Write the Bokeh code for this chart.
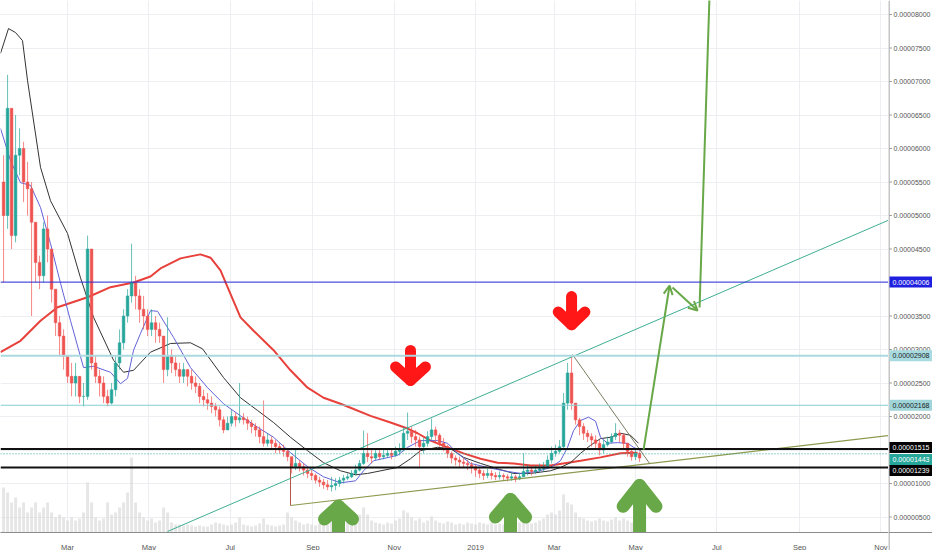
import pandas as pd
from bokeh.plotting import figure
from bokeh.layouts import row
from bokeh.models import (ColumnDataSource, Range1d, FixedTicker, Grid,
                          Span, Arrow, OpenHead)
from bokeh.embed import file_html
from bokeh.resources import INLINE

UNIT = 1e-5          # prices below are written in units of 0.00001
BASE = pd.Timestamp("2018-01-01")

# ---------------- candles (3-day bars) ----------------
start_date = "2018-01-12"
first_open = 5.5
close = [5.0, 6.6, 4.7, 5.9, 6.0, 5.5, 5.4, 4.9, 4.3, 4.1,
         4.8, 4.5, 3.9, 3.4, 3.2, 2.9, 2.6, 2.5, 2.6, 2.3,
         2.3, 4.5, 2.8, 2.6, 2.5, 2.3, 2.2, 2.4, 2.8, 3.1,
         3.5, 3.8, 4.0, 3.8, 3.6, 3.5, 3.3, 3.4, 3.3, 3.2,
         2.7, 2.9, 2.8, 2.7, 2.6, 2.7, 2.6, 2.5, 2.45, 2.3,
         2.25, 2.2, 2.15, 2.1, 1.95, 1.8, 1.9, 2.0, 1.95, 1.98,
         1.95, 1.9, 1.85, 1.8, 1.7, 1.6, 1.65, 1.6, 1.55, 1.5,
         1.48, 1.4, 1.25, 1.3, 1.25, 1.2, 1.15, 1.12, 1.05, 1.02,
         0.98, 0.95, 0.97, 1.0, 1.05, 1.08, 1.1, 1.15, 1.2, 1.3,
         1.45, 1.4, 1.38, 1.45, 1.4, 1.42, 1.45, 1.42, 1.48, 1.5,
         1.75, 1.78, 1.7, 1.65, 1.55, 1.6, 1.7, 1.8, 1.72, 1.6,
         1.55, 1.45, 1.38, 1.35, 1.32, 1.3, 1.28, 1.25, 1.2, 1.15,
         1.12, 1.15, 1.12, 1.1, 1.12, 1.1, 1.08, 1.1, 1.07, 1.1,
         1.18, 1.2, 1.18, 1.2, 1.22, 1.25, 1.35, 1.45, 1.48, 1.55,
         2.2, 2.65, 2.2, 1.95, 1.85, 1.75, 1.7, 1.65, 1.6, 1.5,
         1.58, 1.62, 1.7, 1.75, 1.72, 1.6, 1.48, 1.4, 1.45, 1.38]
high = [5.9, 7.1, 6.6, 6.5, 6.3, 6.1, 5.8, 5.5, 4.9, 4.4,
        4.9, 5.0, 4.5, 3.9, 3.5, 3.3, 2.9, 2.8, 2.8, 2.6,
        2.5, 4.7, 4.5, 2.9, 2.7, 2.6, 2.4, 2.5, 2.9, 3.3,
        3.6, 3.9, 4.58, 4.1, 3.9, 3.8, 3.6, 3.6, 3.5, 3.4,
        3.2, 3.48, 3.0, 2.9, 2.8, 2.8, 2.7, 2.7, 2.6, 2.5,
        2.4, 2.35, 2.3, 2.2, 2.15, 2.0, 2.0, 2.1, 2.06, 2.5,
        2.05, 2.0, 1.95, 1.9, 1.85, 2.24, 1.75, 1.7, 1.65, 1.6,
        1.58, 1.5, 1.4, 1.52, 1.35, 1.3, 1.25, 1.2, 1.15, 1.1,
        1.07, 1.05, 1.1, 1.08, 1.1, 1.13, 1.15, 1.2, 1.28, 1.35,
        1.79, 1.75, 1.5, 1.52, 1.5, 1.5, 1.5, 1.5, 1.55, 1.6,
        1.85, 2.06, 1.85, 1.8, 1.7, 1.68, 1.78, 1.97, 1.85, 1.75,
        1.68, 1.58, 1.48, 1.42, 1.4, 1.38, 1.35, 1.32, 1.28, 1.25,
        1.2, 1.22, 1.2, 1.17, 1.18, 1.15, 1.14, 1.16, 1.13, 1.16,
        1.45, 1.28, 1.25, 1.27, 1.3, 1.32, 1.42, 1.55, 1.58, 1.65,
        2.35, 2.8, 2.9, 2.2, 1.98, 1.9, 1.8, 1.75, 1.72, 1.65,
        1.65, 1.7, 1.75, 1.9, 1.8, 1.75, 1.6, 1.5, 1.5, 1.48]
low = [4.0, 4.8, 4.5, 4.6, 5.6, 5.2, 5.0, 3.5, 4.0, 3.9,
       4.0, 4.3, 3.7, 3.2, 2.9, 2.7, 2.5, 2.3, 2.3, 2.2,
       2.15, 2.25, 2.7, 2.5, 2.3, 2.2, 2.15, 2.18, 2.3, 2.7,
       3.0, 3.4, 3.7, 3.6, 3.4, 3.3, 3.2, 3.2, 3.1, 3.1,
       2.5, 2.6, 2.65, 2.6, 2.5, 2.5, 2.45, 2.4, 2.35, 2.2,
       2.15, 2.1, 2.05, 2.0, 1.85, 1.75, 1.8, 1.85, 1.85, 1.9,
       1.88, 1.8, 1.75, 1.7, 1.6, 1.55, 1.55, 1.5, 1.45, 1.45,
       1.4, 1.33, 1.15, 1.2, 1.18, 1.12, 1.08, 1.05, 1.0, 0.95,
       0.92, 0.9, 0.88, 0.9, 0.95, 1.0, 1.05, 1.08, 1.12, 1.18,
       1.28, 1.32, 1.3, 1.35, 1.35, 1.36, 1.38, 1.36, 1.4, 1.42,
       1.48, 1.65, 1.6, 1.55, 1.25, 1.45, 1.55, 1.65, 1.62, 1.55,
       1.48, 1.38, 1.3, 1.27, 1.25, 1.24, 1.2, 1.15, 1.1, 1.08,
       1.05, 1.08, 1.06, 1.05, 1.06, 1.04, 1.03, 1.04, 1.02, 1.05,
       1.1, 1.12, 1.12, 1.14, 1.16, 1.18, 1.22, 1.3, 1.4, 1.45,
       1.5, 2.1, 2.1, 1.88, 1.72, 1.65, 1.62, 1.55, 1.5, 1.42,
       1.45, 1.55, 1.6, 1.65, 1.62, 1.5, 1.4, 1.34, 1.35, 1.32]
volume = [45, 40, 30, 35, 25, 30, 20, 25, 30, 20,
          25, 30, 20, 15, 18, 15, 12, 15, 12, 14,
          20, 50, 30, 15, 12, 14, 30, 18, 20, 25,
          30, 40, 75, 30, 20, 15, 12, 14, 10, 12,
          25, 20, 10, 8, 8, 7, 8, 7, 6, 7,
          6, 6, 8, 10, 9, 8, 7, 8, 10, 15,
          8, 7, 6, 7, 9, 14, 8, 7, 6, 7,
          8, 20, 15, 12, 10, 8, 9, 8, 7, 9,
          10, 8, 12, 10, 9, 8, 10, 12, 11, 18,
          25, 18, 12, 10, 9, 8, 10, 9, 12, 14,
          22, 20, 15, 12, 14, 10, 12, 16, 12, 10,
          9, 11, 10, 8, 9, 8, 10, 9, 8, 10,
          9, 8, 10, 8, 9, 8, 7, 9, 8, 10,
          14, 10, 9, 10, 12, 14, 18, 20, 18, 22,
          38, 30, 28, 20, 15, 14, 12, 11, 12, 14,
          12, 11, 13, 15, 12, 14, 12, 10, 11, 10]

# ---------------- moving averages (day number since 2018-01-01, price) ----------------
black_ma_day = [8.7, 14.7, 20, 25.2, 29, 38.7, 46.2, 59, 68.7, 78.5, 93.5, 101, 108.5, 121.2,
                136.2, 151.2, 160.2, 176, 188.7, 201.5, 213.5, 226.2, 239, 251, 263.7, 275, 284,
                306.5, 316.2, 323.7, 336.5, 346.2, 356, 368.7, 381.5, 393.5, 406.2, 421.2, 428.7,
                436.2, 443.7, 451.2, 458.7, 466.2, 473.7, 481.2, 487.2]
black_ma_val = [7.42, 7.79, 7.73, 7.61, 7.01, 5.72, 5.22, 4.73, 4.07, 3.48, 2.84, 2.66, 2.69, 2.96,
                3.09, 3.10, 3.01, 2.58, 2.28, 2.09, 1.91, 1.69, 1.49, 1.31, 1.19, 1.13, 1.15,
                1.24, 1.37, 1.49, 1.54, 1.52, 1.39, 1.30, 1.22, 1.15, 1.15, 1.19, 1.24,
                1.31, 1.45, 1.57, 1.67, 1.69, 1.75, 1.72, 1.60]
blue_ma_day = [8.7, 16.2, 23.7, 31.2, 38.7, 46.2, 53.7, 61.2, 71, 78.5, 91.2, 98.7, 104, 108.5,
               113.7, 121.2, 126.5, 138.5, 151.2, 164, 176, 188.7, 201.5, 213.5, 226.2, 239, 251,
               263.7, 275, 281, 288.5, 306.5, 314, 323.7, 336.5, 344, 351.5, 361.2, 374, 386,
               398.7, 411.5, 421.2, 428.7, 434, 438.5, 443.7, 449.7, 455, 458.7, 464, 471.5, 479,
               483.5, 488.7]
blue_ma_val = [6.30, 5.82, 5.49, 5.45, 5.12, 4.58, 3.99, 3.43, 2.73, 2.75, 2.66, 2.49, 2.57, 2.99,
               3.24, 3.58, 3.57, 3.18, 2.73, 2.43, 2.19, 2.01, 1.84, 1.69, 1.46, 1.25, 1.10,
               1.01, 1.04, 1.19, 1.34, 1.42, 1.54, 1.64, 1.64, 1.60, 1.45, 1.30, 1.24, 1.19,
               1.15, 1.18, 1.24, 1.34, 1.54, 1.79, 1.94, 1.99, 1.93, 1.69, 1.60, 1.61, 1.60,
               1.54, 1.49]
red_ma_day = [8.7, 23.7, 38.7, 51.5, 74, 91.2, 108.5, 121.2, 128.7, 143.7, 158.7, 166.2, 173.7,
              179, 188.7, 198.5, 213.5, 226.2, 239, 251, 263.7, 271.2, 286.2, 301.2, 314, 321.5,
              331.2, 344, 356, 368.7, 381.5, 393.5, 406.2, 421.2, 443.7, 458.7, 473.7, 486.5]
red_ma_val = [2.96, 3.13, 3.43, 3.63, 3.78, 3.93, 4.00, 4.09, 4.21, 4.36, 4.42, 4.37, 4.18,
              3.93, 3.48, 3.28, 2.99, 2.69, 2.43, 2.28, 2.19, 2.13, 2.01, 1.91, 1.82, 1.75,
              1.64, 1.54, 1.45, 1.37, 1.31, 1.30, 1.27, 1.27, 1.34, 1.39, 1.45, 1.46]

# ---------------- axis ticks ----------------
tick_dates = ["2018-03-01", "2018-05-01", "2018-07-01", "2018-09-01", "2018-11-01", "2019-01-01",
              "2019-03-01", "2019-05-01", "2019-07-01", "2019-09-01", "2019-11-01"]
tick_labels = ["Mar", "May", "Jul", "Sep", "Nov", "2019", "Mar", "May", "Jul", "Sep", "Nov"]
price_ticks = [0.5, 1.0, 1.5, 2.0, 2.5, 3.0, 3.5, 4.0, 4.5, 5.0, 5.5, 6.0, 6.5, 7.0, 7.5, 8.0]

# ---------------- horizontal levels ----------------
levels = [4.006, 2.908, 2.168, 1.515, 1.443, 1.239]
level_text = ["0.00004006", "0.00002908", "0.00002168", "0.00001515", "0.00001443", "0.00001239"]
# where the scale shows each level's tag (the close tags are pushed apart, as on the scale)
level_tag_at = [4.006, 2.908, 2.168, 1.537, 1.358, 1.194]

# ---------------- drawings (day, price) ----------------
trend_ray_day = [134.0, 674.7]
trend_ray_val = [0.284, 4.93]
support_day = [226.2, 674.7]
support_val = [0.672, 1.716]
marker_day = [226.2, 226.2]
marker_val = [1.30, 0.672]
wedge_day = [437.7, 495.5]
wedge_val = [2.925, 1.299]
path_arrows = [((491.0, 1.507), (510.5, 3.955)), ((512.7, 3.925), (531.5, 3.582))]
path_rise_day = [533.0, 540.8]
path_rise_val = [3.627, 8.5]
red_arrows = [(316.2, 2.985, 2.54, 11.2, 0.2), (437.0, 3.79, 3.37, 10.0, 0.19)]
green_arrows = [(262.2, 0.66, 10.5, 0.19), (391.2, 0.76, 11.3, 0.26), (488.0, 0.97, 12.3, 0.31)]

# ---------------- build ----------------
days = lambda ds: [(pd.Timestamp(d) - BASE).days for d in ds]
dates = pd.date_range(start_date, periods=len(close), freq="3D")
xday = list((dates - BASE).days)
opens = [first_open] + close[:-1]
UP, DOWN = "#26a69a", "#ef5350"
colors = [UP if c >= o else DOWN for o, c in zip(opens, close)]
hi = [max(h, o, c) for h, o, c in zip(high, opens, close)]
lo = [min(l, o, c) for l, o, c in zip(low, opens, close)]
src = ColumnDataSource(dict(
    x=xday,
    top=[max(o, c) * UNIT for o, c in zip(opens, close)],
    bottom=[min(o, c) * UNIT for o, c in zip(opens, close)],
    hi=[v * UNIT for v in hi], lo=[v * UNIT for v in lo],
    vol=volume, color=colors))

AXIS_GREY = "#8c8c8c"
GRID = "#eceef2"
Y_TOP = 8.209   # price at the top edge of the pane
Y_BOT = 0.2687  # price at the time axis

p = figure(frame_width=888, frame_height=532,
           x_range=Range1d(8.7, 674.7), y_range=Range1d(Y_BOT * UNIT, Y_TOP * UNIT),
           output_backend="svg", toolbar_location=None, y_axis_location=None,
           min_border_left=0, min_border_top=0, min_border_right=0, min_border_bottom=18)
p.outline_line_color = None
p.background_fill_color = "white"
p.border_fill_color = "white"
p.extra_y_ranges = {"vol": Range1d(0, 532)}

tick_days = days(tick_dates)
p.xaxis.ticker = FixedTicker(ticks=tick_days)
p.xaxis.major_label_overrides = {d: t for d, t in zip(tick_days, tick_labels)}
p.xaxis.major_label_text_font = "Liberation Sans"
p.xaxis.major_label_text_font_size = "7.5px"
p.xaxis.major_label_text_color = "#555555"
p.xaxis.axis_line_color = AXIS_GREY
p.xaxis.major_tick_line_color = None
p.xaxis.minor_tick_line_color = None
p.xaxis.major_label_standoff = 4
p.xgrid.grid_line_color = GRID
p.add_layout(Grid(dimension=1, ticker=FixedTicker(ticks=[t * UNIT for t in price_ticks]),
                  grid_line_color=GRID))

# volume
p.vbar(x="x", top="vol", bottom=0, width=2.2, source=src, y_range_name="vol",
       fill_color="#d9d9d9", line_color=None, fill_alpha=0.65)

# levels
level_style = [("#2b2bd9", 1, "solid"), ("#aadadf", 2, "solid"), ("#86cfd3", 1, "solid"),
               ("#111111", 2, "solid"), ("#26a69a", 1, "1 2"), ("#111111", 2, "solid")]
for lv, (c, w, d) in zip(levels, level_style):
    p.add_layout(Span(location=lv * UNIT, dimension="width", line_color=c, line_width=w,
                      line_dash=d))

# moving averages
p.line(red_ma_day, [v * UNIT for v in red_ma_val], line_color="#e8403a", line_width=2)
p.line(black_ma_day, [v * UNIT for v in black_ma_val], line_color="#333333", line_width=1)
p.line(blue_ma_day, [v * UNIT for v in blue_ma_val], line_color="#6262d8", line_width=1)

# candles
p.segment(x0="x", x1="x", y0="lo", y1="hi", color="color", source=src, line_width=1, line_alpha=0.7)
p.vbar(x="x", top="top", bottom="bottom", width=2.0, fill_color="color", line_color="color",
       line_width=0.5, source=src)

# drawings
p.line(trend_ray_day, [v * UNIT for v in trend_ray_val], line_color="#3fae93", line_width=1)
p.line(support_day, [v * UNIT for v in support_val], line_color="#8c9a4e", line_width=1.2)
p.line(marker_day, [v * UNIT for v in marker_val], line_color="#b5564a", line_width=1)
p.line(wedge_day, [v * UNIT for v in wedge_val], line_color="#7d7d62", line_width=1)

GREEN = "#68a848"
for (x0, y0), (x1, y1) in path_arrows:
    p.add_layout(Arrow(end=OpenHead(size=9, line_color=GREEN, line_width=2),
                       x_start=x0, y_start=y0 * UNIT, x_end=x1, y_end=y1 * UNIT,
                       line_color=GREEN, line_width=2))
p.line(path_rise_day, [v * UNIT for v in path_rise_val], line_color=GREEN, line_width=2)

for (cx, top, tip, half, wing) in red_arrows:
    p.multi_line([[cx, cx], [cx - half, cx, cx + half]],
                 [[top * UNIT, tip * UNIT], [(tip + wing) * UNIT, tip * UNIT, (tip + wing) * UNIT]],
                 line_color="#ff1616", line_width=11, line_cap="round", line_join="round")
for (cx, tip, half, wing) in green_arrows:
    p.multi_line([[cx, cx], [cx - half, cx, cx + half]],
                 [[tip * UNIT, 0.0], [(tip - wing) * UNIT, tip * UNIT, (tip - wing) * UNIT]],
                 line_color=GREEN, line_width=13, line_cap="round", line_join="round")

# ---------------- price scale pane (right) ----------------
q = figure(frame_width=44, frame_height=550, x_range=Range1d(0, 44),
           y_range=Range1d(0, Y_TOP * UNIT), output_backend="svg", toolbar_location=None,
           x_axis_location=None, y_axis_location=None,
           min_border_left=0, min_border_top=0, min_border_right=0, min_border_bottom=0)
q.outline_line_color = None
q.background_fill_color = "white"
q.border_fill_color = "white"
q.xgrid.visible = False
q.ygrid.visible = False

q.segment(x0=[0.5], x1=[0.5], y0=[0], y1=[Y_TOP * UNIT], line_color=AXIS_GREY, line_width=1)
q.segment(x0=[0], x1=[44], y0=[Y_BOT * UNIT], y1=[Y_BOT * UNIT], line_color=AXIS_GREY, line_width=1)
tick_vals = [t * UNIT for t in price_ticks]
q.segment(x0=[0.5] * len(tick_vals), x1=[3.5] * len(tick_vals), y0=tick_vals, y1=tick_vals,
          line_color="#a0a0a0", line_width=1)
q.text(x=[5] * len(tick_vals), y=tick_vals, text=[f"{v:.8f}" for v in tick_vals],
       text_font_size="7px", text_color="#555555", text_baseline="middle", text_align="left")

label_style = [("#1f1fe0", "white"), ("#a8dbe0", "#1a1a1a"), ("#9fd5d9", "#1a1a1a"),
               ("#000000", "white"), ("#26a69a", "white"), ("#000000", "white")]
half_h = 5.5 / 67.0 * UNIT
q.quad(left=[1] * len(levels), right=[44] * len(levels),
       top=[t * UNIT + half_h for t in level_tag_at], bottom=[t * UNIT - half_h for t in level_tag_at],
       fill_color=[s[0] for s in label_style], line_color=None)
q.text(x=[4] * len(levels), y=[t * UNIT for t in level_tag_at], text=level_text,
       text_font_size="7px", text_color=[s[1] for s in label_style],
       text_baseline="middle", text_align="left")

layout = row(p, q, spacing=0)
open("out.html", "w").write(file_html(layout, INLINE, title="chart"))
